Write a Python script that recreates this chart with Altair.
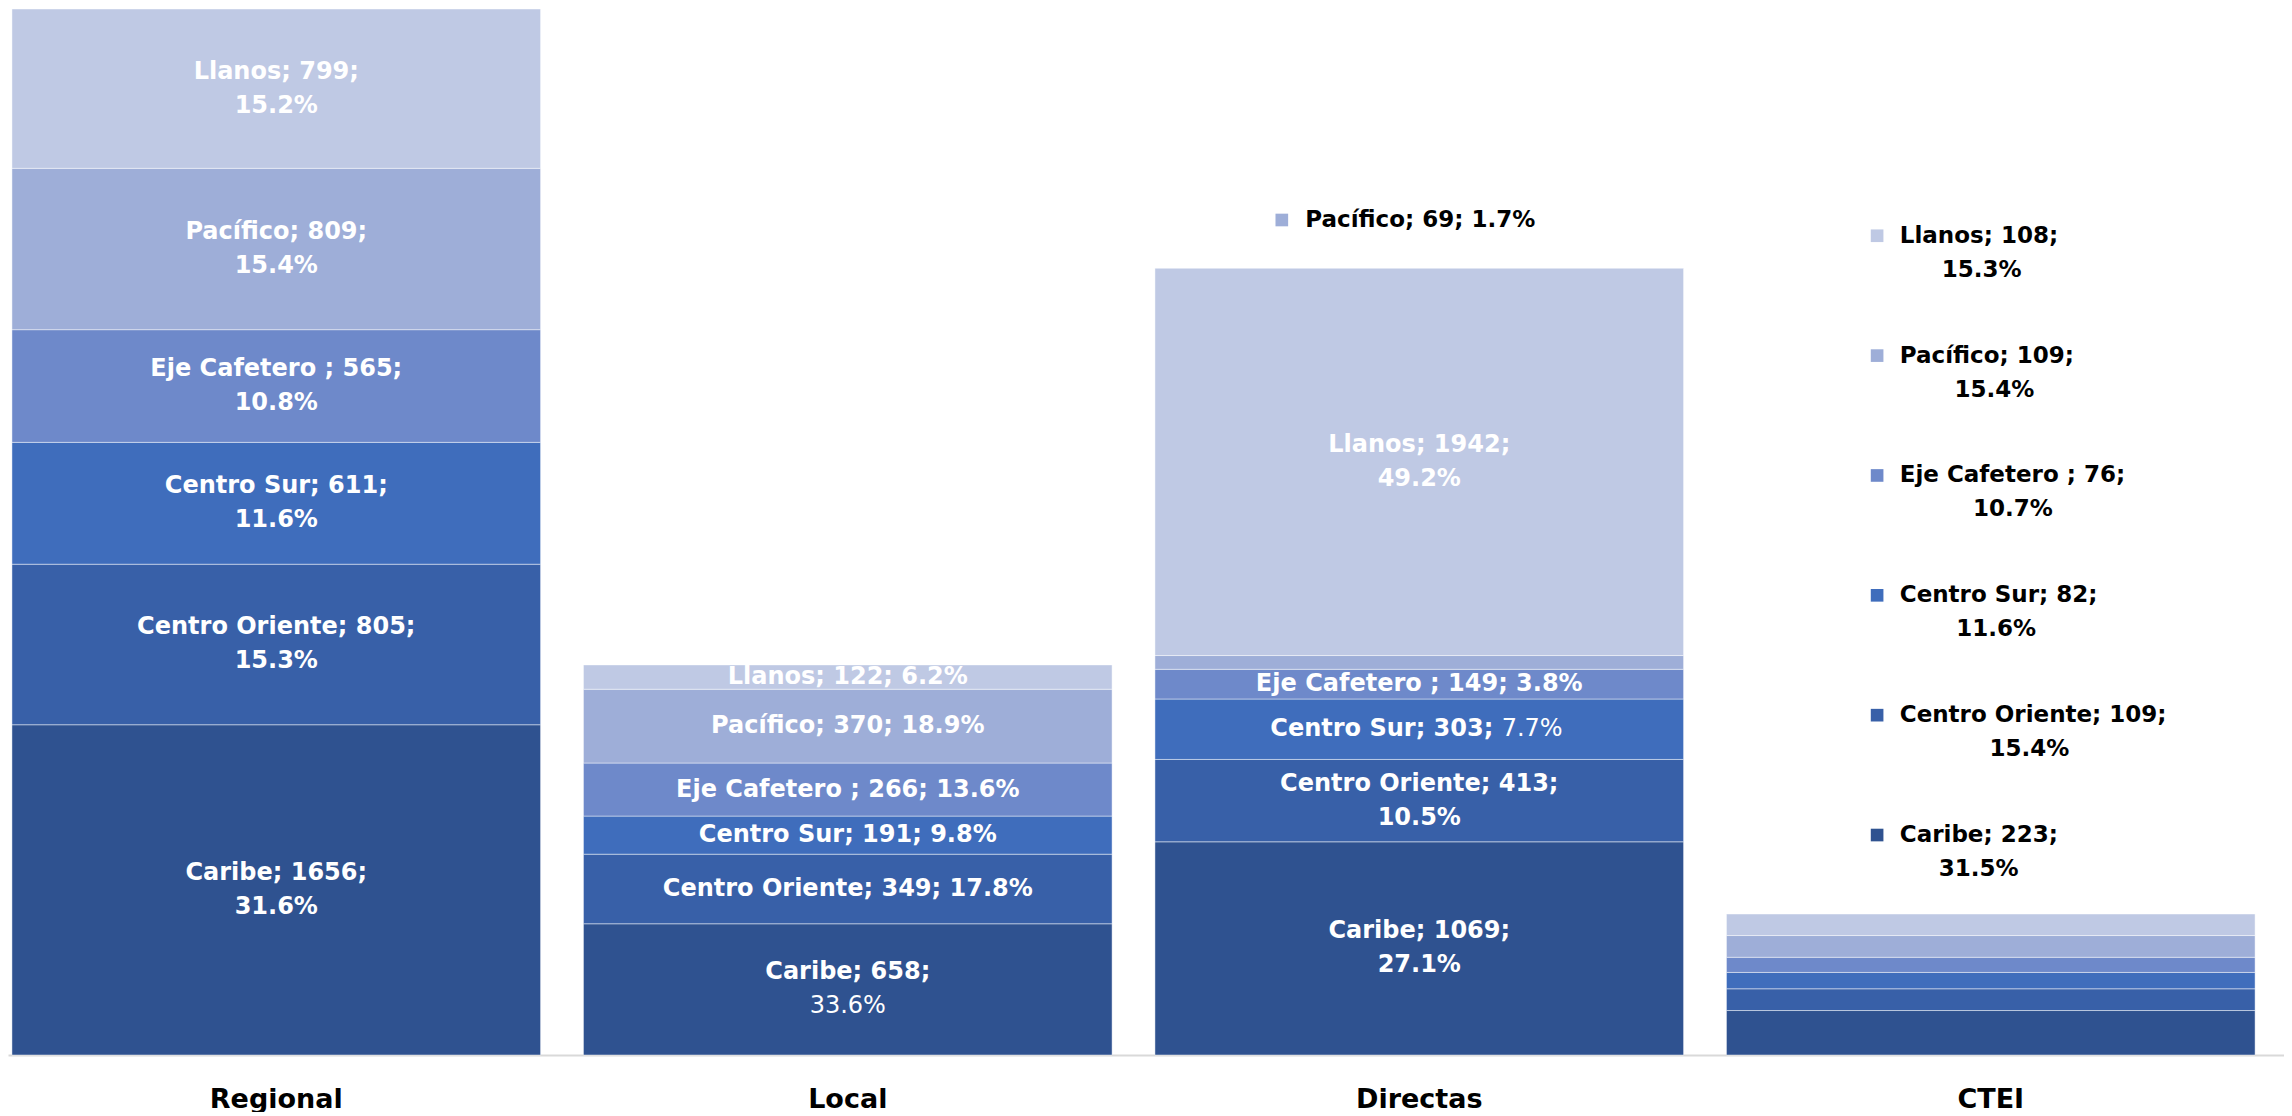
import altair as alt
import pandas as pd

# ---------------- data ----------------
categories = ["Regional", "Local", "Directas", "CTEI"]
regions = ["Caribe", "Centro Oriente", "Centro Sur", "Eje Cafetero ", "Pacífico", "Llanos"]
regional = [1656, 805, 611, 565, 809, 799]
local = [658, 349, 191, 266, 370, 122]
directas = [1069, 413, 303, 149, 69, 1942]
ctei = [223, 109, 82, 76, 109, 108]

# ---------------- styles / layout ----------------
colors = ["#2F5290", "#3860A8", "#3F6DBC", "#6E89CA", "#9EAED8", "#BFC9E4"]
FONT = "DejaVu Sans"
IN_FS = 24
CO_FS = 23
LINE_GAP = 34

# "2": two lines inside, "1": one line inside, "1s": one line, percent in regular weight,
# "c2"/"c1": callout outside the bar
label_style = {
    "Regional": ["2", "2", "2", "2", "2", "2"],
    "Local": ["2", "1", "1", "1", "1", "1"],
    "Directas": ["2", "2", "1s", "1", "c1", "2"],
    "CTEI": ["c2", "c2", "c2", "c2", "c2", "c2"],
}
light_second_line = [("Local", "Caribe")]
callout_layout = {
    "Directas": {"base": 242, "step": 0, "text_dx": -114, "marker_band": 0.24},
    "CTEI": {"base": 396, "step": 601, "text_dx": -91, "marker_band": 0.285},
}


def est_width(s, fs, bold=True):
    """rough text width estimate for DejaVu Sans (em units per char class)"""
    w = 0.0
    for ch in s:
        if ch in " ":
            w += 0.35 if bold else 0.32
        elif ch in ";.:,":
            w += 0.38 if bold else 0.33
        elif ch == "%":
            w += 1.0 if bold else 0.95
        elif ch.isdigit():
            w += 0.70 if bold else 0.64
        elif ch in "iljtfr":
            w += 0.42 if bold else 0.35
        elif ch.isupper():
            w += 0.77 if bold else 0.72
        else:
            w += 0.68 if bold else 0.61
    return w * fs


rows = []
for cat, vals in zip(categories, [regional, local, directas, ctei]):
    total = sum(vals)
    k = 0
    for i, (reg, v) in enumerate(zip(regions, vals)):
        st = label_style[cat][i]
        pct = f"{v / total * 100:.1f}%"
        if st in ("2", "c2"):
            l1, l2 = f"{reg}; {v};", pct
        elif st == "1s":
            l1, l2 = f"{reg}; {v};", pct
        else:
            l1, l2 = f"{reg}; {v}; {pct}", ""
        cy = 0.0
        dx2 = 0.0
        dx3 = 0.0
        if st.startswith("c"):
            lay = callout_layout[cat]
            cy = total + lay["base"] + k * lay["step"]
            k += 1
            dx2 = lay["text_dx"] + est_width(l1, CO_FS) / 2
        if st == "1s":
            wb = est_width(l1, IN_FS)
            wl = est_width(l2, IN_FS, bold=False)
            sp = est_width(" ", IN_FS)
            dx2 = (wb - sp - wl) / 2
            dx3 = dx2 + sp
        rows.append(dict(category=cat, region=reg, value=v, order=i, style=st,
                         line1=l1, line2=l2,
                         light2=(cat, reg.strip()) in light_second_line,
                         cy=cy, dx2=dx2, dx3=dx3))
df = pd.DataFrame(rows)

xscale = alt.Scale(paddingInner=0.075, paddingOuter=0.02875, align=0.12)
xaxis = alt.Axis(title=None, labelAngle=0, labelFontSize=27, labelFontWeight="bold",
                 labelColor="black", labelFont=FONT, labelPadding=31, ticks=False,
                 domainColor="#D9D9D9", domainWidth=2, grid=False)
yscale = alt.Scale(domain=[0, 5245], nice=False, zero=True)


def X(**kw):
    return alt.X("category:N", sort=categories, scale=xscale, axis=xaxis, **kw)


def Y(f):
    return alt.Y(f, scale=yscale, axis=None)


color = alt.Color("region:N", scale=alt.Scale(domain=regions, range=colors), legend=None)

base = alt.Chart(df).transform_stack(
    stack="value", groupby=["category"], as_=["y0", "y1"],
    sort=[alt.SortField("order", order="ascending")]
).transform_calculate(mid="(datum.y0 + datum.y1) / 2")

bars = base.mark_bar(stroke="white", strokeWidth=1, strokeOpacity=0.45).encode(
    x=X(), y=Y("y1:Q"), y2="y0:Q", color=color
)

tin = dict(font=FONT, fontSize=IN_FS, fontWeight="bold", color="white",
           baseline="middle", align="center")
tin_light = dict(tin, fontWeight="normal")
t2a = base.transform_filter("datum.style == '2'").mark_text(dy=-LINE_GAP / 2, **tin).encode(
    x=X(), y=Y("mid:Q"), text="line1:N")
t2b = base.transform_filter("datum.style == '2' && !datum.light2").mark_text(
    dy=LINE_GAP / 2, **tin).encode(x=X(), y=Y("mid:Q"), text="line2:N")
t2c = base.transform_filter("datum.style == '2' && datum.light2").mark_text(
    dy=LINE_GAP / 2, **tin_light).encode(x=X(), y=Y("mid:Q"), text="line2:N")
t1 = base.transform_filter("datum.style == '1'").mark_text(**tin).encode(
    x=X(), y=Y("mid:Q"), text="line1:N")
# split single line: bold name/value + regular-weight percentage
t1s_a = base.transform_filter("datum.style == '1s'").mark_text(
    **dict(tin, align="right", dx={"expr": "datum.dx2"})).encode(
    x=X(), y=Y("mid:Q"), text="line1:N")
t1s_b = base.transform_filter("datum.style == '1s'").mark_text(
    **dict(tin_light, align="left", dx={"expr": "datum.dx3"})).encode(
    x=X(), y=Y("mid:Q"), text="line2:N")

layers = [bars, t2a, t2b, t2c, t1, t1s_a, t1s_b]

tco = dict(font=FONT, fontSize=CO_FS, fontWeight="bold", color="black", baseline="middle")
for cat, lay in callout_layout.items():
    flt = f"datum.category == '{cat}' && (datum.style == 'c1' || datum.style == 'c2')"
    mk = base.transform_filter(flt).mark_square(size=160, opacity=1).encode(
        x=X(bandPosition=lay["marker_band"]), y=Y("cy:Q"), color=color)
    l1 = base.transform_filter(flt).mark_text(align="left", dx=lay["text_dx"], **tco).encode(
        x=X(), y=Y("cy:Q"), text="line1:N")
    layers += [mk, l1]

l2 = base.transform_filter("datum.style == 'c2'").mark_text(
    align="center", dx={"expr": "datum.dx2"}, dy=LINE_GAP, **tco).encode(
    x=X(), y=Y("cy:Q"), text="line2:N")
layers.append(l2)

chart = alt.layer(*layers).properties(
    width=2276, height=1046, padding=0, background="white"
).configure_view(stroke=None)

chart.save("out.html", embed_options={"renderer": "svg", "actions": False})
